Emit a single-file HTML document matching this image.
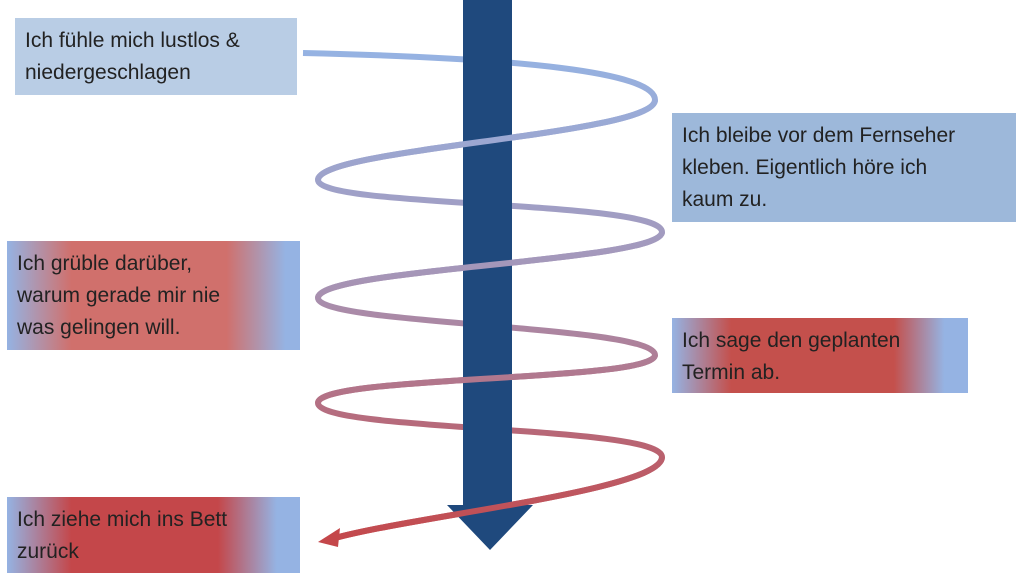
<!DOCTYPE html>
<html><head><meta charset="utf-8"><style>
html,body{margin:0;padding:0;background:#fff;width:1024px;height:575px;overflow:hidden}
.box{position:absolute;font-family:"Liberation Sans",sans-serif;font-size:21px;line-height:32px;color:#222;box-sizing:border-box;padding:7px 10px;white-space:nowrap}
</style></head><body>
<svg width="1024" height="575" style="position:absolute;left:0;top:0">
<defs>
<linearGradient id="sg" gradientUnits="userSpaceOnUse" x1="0" y1="50" x2="0" y2="545">
<stop offset="0" stop-color="#95b3e3"/><stop offset="0.45" stop-color="#a596b8"/><stop offset="1" stop-color="#c4474a"/></linearGradient>
</defs>
<path d="M303,53 C520,58 655,72 655,100 C655,135 318,148 318,180 C318,208 662,200 662,232 C662,262 318,268 318,298 C318,325 655,325 655,355 C655,382 318,375 318,403 C318,432 662,425 662,457 C662,490 420,515 335,538" fill="none" stroke="url(#sg)" stroke-width="6"/>
<path d="M463,0 H512 V505 H533 L490,550 L447,505 H463 Z" fill="#1f497d"/>
<path d="M655,100 C655,135 318,148 318,180 M662,232 C662,262 318,268 318,298 M655,355 C655,382 318,375 318,403 M662,457 C662,490 420,515 335,538" fill="none" stroke="url(#sg)" stroke-width="6"/>
<path d="M318,542 L340,528 L338,547 Z" fill="#c4474a"/>
</svg>
<div class="box" style="left:15px;top:18px;width:282px;height:77px;background:#b9cde5">Ich fühle mich lustlos &amp;<br>niedergeschlagen</div>
<div class="box" style="left:672px;top:113px;width:344px;height:109px;background:#9db8da">Ich bleibe vor dem Fernseher<br>kleben. Eigentlich höre ich<br>kaum zu.</div>
<div class="box" style="left:7px;top:241px;width:293px;height:109px;background:linear-gradient(90deg,#95b3e3 0%,#d0706c 22%,#d0706c 75%,#95b3e3 95%)">Ich grüble darüber,<br>warum gerade mir nie<br>was gelingen will.</div>
<div class="box" style="left:672px;top:318px;width:296px;height:75px;background:linear-gradient(90deg,#95b3e3 0%,#c4504c 20%,#c4504c 75%,#95b3e3 92%)">Ich sage den geplanten<br>Termin ab.</div>
<div class="box" style="left:7px;top:497px;width:293px;height:76px;background:linear-gradient(90deg,#95b3e3 0%,#c4474a 22%,#c4474a 72%,#95b3e3 92%)">Ich ziehe mich ins Bett<br>zurück</div>
</body></html>
